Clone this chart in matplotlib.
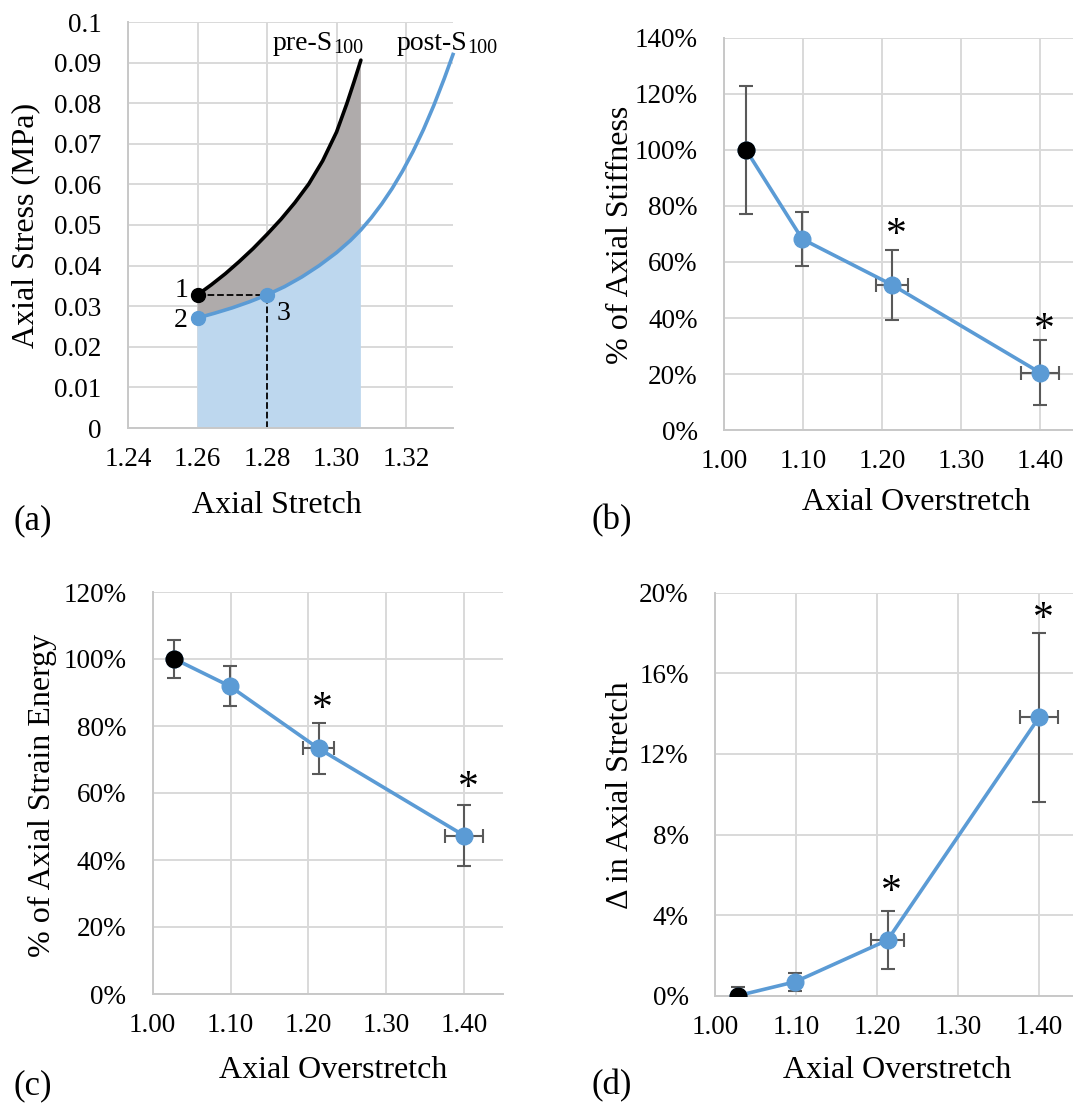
import numpy as np
import matplotlib
matplotlib.use("Agg")
import matplotlib.pyplot as plt
from matplotlib.ticker import FuncFormatter, MultipleLocator

plt.rcParams['font.family'] = ['Liberation Serif', 'DejaVu Serif']

# (a) stress-stretch curves before and after the 100 s hold
pre_stretch = [1.260, 1.264, 1.268, 1.272, 1.276, 1.280, 1.284, 1.288, 1.292, 1.296, 1.300, 1.303, 1.305, 1.307]
pre_stress = [0.0328, 0.0353, 0.0380, 0.0410, 0.0442, 0.0477, 0.0514, 0.0555, 0.0601, 0.0658, 0.0729, 0.0800, 0.0852, 0.0906]
post_stretch = [1.260, 1.265, 1.270, 1.275, 1.280, 1.285, 1.290, 1.295, 1.300, 1.304, 1.307,
                1.310, 1.313, 1.316, 1.319, 1.322, 1.325, 1.328, 1.331, 1.3335]
post_stress = [0.0271, 0.0283, 0.0296, 0.0311, 0.0328, 0.0348, 0.0372, 0.0400, 0.0432, 0.0462, 0.0488,
               0.0518, 0.0552, 0.0590, 0.0633, 0.0681, 0.0735, 0.0795, 0.0861, 0.0920]
pt_labels = ['1', '2', '3']
pt_stretch = [1.26, 1.26, 1.28]
pt_stress = [0.0328, 0.0271, 0.0328]

# (b)-(d) summary values vs overstretch
overstretch = [1.028, 1.099, 1.213, 1.400]
overstretch_err = [0.0, 0.0, 0.020, 0.024]
stiffness = [100.0, 68.2, 51.8, 20.5]
stiffness_err = [23.0, 9.7, 12.6, 11.7]
energy = [100.0, 91.9, 73.3, 47.3]
energy_err = [5.7, 5.9, 7.5, 9.1]
stretch_change = [0.0, 0.69, 2.76, 13.81]
stretch_change_err = [0.45, 0.45, 1.44, 4.2]
star_idx = [2, 3]
stiffness_star = [69.4, 35.5]
energy_star = [84.8, 61.2]
stretch_star = [5.13, 18.65]

BLUE = '#5B9BD5'
GRID = '#D9D9D9'
ERR = '#595959'
W, H = 1073, 1105


def fpos(x, y):
    return x / W, 1 - y / H


def axes_px(fig, left, top, right, bottom):
    return fig.add_axes([left / W, 1 - bottom / H, (right - left) / W, (bottom - top) / H])


def style(ax):
    ax.grid(True, color=GRID, lw=1.4)
    ax.set_axisbelow(True)
    for s in ['top', 'right']:
        ax.spines[s].set_visible(False)
    for s in ['left', 'bottom']:
        ax.spines[s].set_color('#C8C8C8')
        ax.spines[s].set_linewidth(1.4)
    ax.tick_params(length=0, labelsize=19.5)
    ax.tick_params(axis='y', pad=19)
    ax.tick_params(axis='x', pad=14)


def sub_label(fig, x, y, main, sub):
    # main text ends at x, subscript starts there (pixel coords)
    fig.text(*fpos(x, y), main, fontsize=20, ha='right', va='baseline')
    fig.text(*fpos(x, y + 3), sub, fontsize=14.5, ha='left', va='baseline')


fig = plt.figure(figsize=(W / 100, H / 100), dpi=100)

# ---- (a)
ax = axes_px(fig, 128, 22, 453, 428)
style(ax)
ax.set_xlim(1.24, 1.3335)
ax.set_ylim(0, 0.1)
ax.xaxis.set_major_locator(MultipleLocator(0.02))
ax.yaxis.set_major_locator(MultipleLocator(0.01))
ax.xaxis.set_major_formatter(FuncFormatter(lambda v, p: f'{v:.2f}'))
ax.yaxis.set_major_formatter(FuncFormatter(lambda v, p: f'{v:.2f}'.rstrip('0').rstrip('.') if v else '0'))

n = post_stretch.index(pre_stretch[-1]) + 1
fx = post_stretch[:n]
fy = post_stress[:n]
ax.fill(fx + [fx[-1], fx[0]], fy + [0, 0], color='#BDD7EE', lw=0, zorder=1)
ax.fill(pre_stretch + fx[::-1], pre_stress + fy[::-1], color='#AFABAB', lw=0, zorder=1)
ax.plot(pre_stretch, pre_stress, color='black', lw=2.6, zorder=3, solid_capstyle='round')
ax.plot(post_stretch, post_stress, color=BLUE, lw=2.6, zorder=3, clip_on=False)
ax.plot([pt_stretch[0], pt_stretch[2]], [pt_stress[0], pt_stress[2]], 'k--', lw=1.3, zorder=2)
ax.plot([pt_stretch[2], pt_stretch[2]], [0, pt_stress[2]], 'k--', lw=1.3, zorder=2)
ax.plot(pt_stretch[0], pt_stress[0], 'o', color='black', ms=10, zorder=4)
ax.plot(pt_stretch[1:], pt_stress[1:], 'o', color=BLUE, ms=10, zorder=4)
ax.text(pt_stretch[0] - 0.0047, pt_stress[0] + 0.001, pt_labels[0], fontsize=20, ha='center', va='center')
ax.text(pt_stretch[1] - 0.0047, pt_stress[1] - 0.0005, pt_labels[1], fontsize=20, ha='center', va='center')
ax.text(pt_stretch[2] + 0.0048, pt_stress[2] - 0.0045, pt_labels[2], fontsize=20, ha='center', va='center')
sub_label(fig, 333, 50, 'pre-S', '100')
sub_label(fig, 467, 50, 'post-S', '100')
fig.text(*fpos(26, 225), 'Axial Stress (MPa)', fontsize=23, rotation=90, ha='center', va='center')
fig.text(*fpos(277, 506), 'Axial Stretch', fontsize=23, ha='center', va='center')
fig.text(*fpos(33, 521), '(a)', fontsize=25, ha='center', va='center')


def summary(ax, yvals, yerr, stars, ymax, ystep):
    style(ax)
    ax.set_xlim(1.0, 1.45)
    ax.set_ylim(0, ymax)
    ax.xaxis.set_major_locator(MultipleLocator(0.1))
    ax.yaxis.set_major_locator(MultipleLocator(ystep))
    ax.xaxis.set_major_formatter(FuncFormatter(lambda v, p: f'{v:.2f}'))
    ax.yaxis.set_major_formatter(FuncFormatter(lambda v, p: f'{v:.0f}%'))
    ax.errorbar(overstretch, yvals, yerr=yerr, xerr=overstretch_err, fmt='none',
                ecolor=ERR, elinewidth=1.5, capsize=5, capthick=1.5, zorder=2)
    ax.plot(overstretch, yvals, '-o', color=BLUE, lw=2.6, ms=12, zorder=3)
    ax.plot(overstretch[0], yvals[0], 'o', color='black', ms=12, zorder=4)
    for i, sy in zip(star_idx, stars):
        ax.text(overstretch[i] + 0.005, sy, '*', fontsize=30, ha='center', va='center')


# ---- (b)
ax = axes_px(fig, 724, 38, 1079.5, 430)
summary(ax, stiffness, stiffness_err, stiffness_star, 140, 20)
fig.text(*fpos(620, 235), '% of Axial Stiffness', fontsize=23, rotation=90, ha='center', va='center')
fig.text(*fpos(916, 503), 'Axial Overstretch', fontsize=23, ha='center', va='center')
fig.text(*fpos(612, 521), '(b)', fontsize=25, ha='center', va='center')

# ---- (c)
ax = axes_px(fig, 152.7, 592, 503, 994)
summary(ax, energy, energy_err, energy_star, 120, 20)
fig.text(*fpos(42, 795), '% of Axial Strain Energy', fontsize=23, rotation=90, ha='center', va='center')
fig.text(*fpos(333, 1070), 'Axial Overstretch', fontsize=23, ha='center', va='center')
fig.text(*fpos(33, 1086), '(c)', fontsize=25, ha='center', va='center')

# ---- (d)
ax = axes_px(fig, 715, 592.7, 1079.5, 995.7)
summary(ax, stretch_change, stretch_change_err, stretch_star, 20, 4)
fig.text(*fpos(620, 795), 'Δ in Axial Stretch', fontsize=23, rotation=90, ha='center', va='center')
fig.text(*fpos(897, 1070), 'Axial Overstretch', fontsize=23, ha='center', va='center')
fig.text(*fpos(612, 1086), '(d)', fontsize=25, ha='center', va='center')

fig.savefig('out.png', dpi=100)
